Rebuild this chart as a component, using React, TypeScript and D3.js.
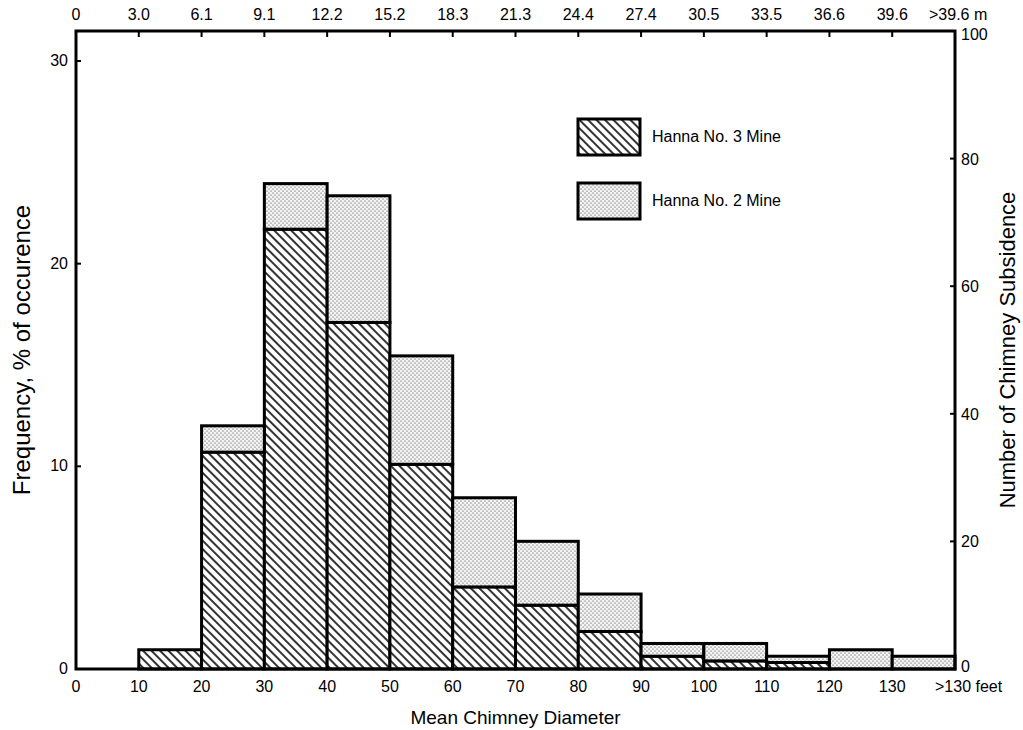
import React from "react";
import * as d3 from "d3";

// bins of mean chimney diameter, feet (last bin is >130)
const binStarts = [0, 10, 20, 30, 40, 50, 60, 70, 80, 90, 100, 110, 120, 130];
// % of occurence, Hanna No. 3 Mine (hatched, bottom)
const hanna3 = [0, 0.95, 10.7, 21.7, 17.1, 10.1, 4.05, 3.15, 1.85, 0.63, 0.4, 0.32, 0, 0];
// % of occurence, Hanna No. 2 Mine (dotted, stacked on top)
const hanna2 = [0, 0, 1.3, 2.25, 6.25, 5.35, 4.4, 3.15, 1.85, 0.63, 0.86, 0.31, 0.95, 0.63];

const feetLabels = ["0", "10", "20", "30", "40", "50", "60", "70", "80", "90", "100", "110", "120", "130", ">130 feet"];
const meterLabels = ["0", "3.0", "6.1", "9.1", "12.2", "15.2", "18.3", "21.3", "24.4", "27.4", "30.5", "33.5", "36.6", "39.6", ">39.6 m"];
const pctTicks = [0, 10, 20, 30];
const countTicks = [0, 20, 40, 60, 80, 100];

export default function App() {
    const ref = React.useRef<SVGSVGElement>(null);

    React.useEffect(() => {
        drawChart();
    }, []);

    function drawChart() {
        const width = 1023;
        const height = 730;
        const margin = { top: 31, right: 68, bottom: 61, left: 76 };
        const font = "'Liberation Sans', Arial, sans-serif";

        const svg = d3.select(ref.current);
        svg.selectAll("*").remove();

        const x = d3
            .scaleLinear()
            .domain([0, 140])
            .range([margin.left, width - margin.right]);
        const y = d3
            .scaleLinear()
            .domain([0, 31.48])
            .range([height - margin.bottom, margin.top]);
        const yCount = d3
            .scaleLinear()
            .domain([0, 100])
            .range([height - margin.bottom, margin.top]);

        // fill patterns
        const defs = svg.append("defs");
        const hatch = defs
            .append("pattern")
            .attr("id", "hatch")
            .attr("patternUnits", "userSpaceOnUse")
            .attr("width", 6)
            .attr("height", 6)
            .attr("patternTransform", "rotate(-45)");
        hatch.append("rect").attr("width", 6).attr("height", 6).attr("fill", "white");
        hatch
            .append("line")
            .attr("x1", 1)
            .attr("y1", 0)
            .attr("x2", 1)
            .attr("y2", 6)
            .attr("stroke", "black")
            .attr("stroke-width", 1.6);

        const dots = defs
            .append("pattern")
            .attr("id", "dots")
            .attr("patternUnits", "userSpaceOnUse")
            .attr("width", 4)
            .attr("height", 4);
        dots.append("rect").attr("width", 4).attr("height", 4).attr("fill", "#f4f4f4");
        dots.append("circle").attr("cx", 1).attr("cy", 1).attr("r", 0.6).attr("fill", "#333");
        dots.append("circle").attr("cx", 3).attr("cy", 3).attr("r", 0.6).attr("fill", "#333");

        const rows = binStarts.map((b, i) => ({ start: b, h3: hanna3[i], h2: hanna2[i] }));

        // Hanna No. 3 (bottom)
        svg.selectAll("rect.h3")
            .data(rows.filter((d) => d.h3 > 0))
            .enter()
            .append("rect")
            .attr("class", "h3")
            .attr("x", (d) => x(d.start))
            .attr("y", (d) => y(d.h3))
            .attr("width", (d) => x(d.start + 10) - x(d.start))
            .attr("height", (d) => y(0) - y(d.h3))
            .attr("fill", "url(#hatch)")
            .attr("stroke", "black")
            .attr("stroke-width", 3);

        // Hanna No. 2 (stacked)
        svg.selectAll("rect.h2")
            .data(rows.filter((d) => d.h2 > 0))
            .enter()
            .append("rect")
            .attr("class", "h2")
            .attr("x", (d) => x(d.start))
            .attr("y", (d) => y(d.h3 + d.h2))
            .attr("width", (d) => x(d.start + 10) - x(d.start))
            .attr("height", (d) => y(d.h3) - y(d.h3 + d.h2))
            .attr("fill", "url(#dots)")
            .attr("stroke", "black")
            .attr("stroke-width", 3);

        // frame
        svg.append("rect")
            .attr("x", x(0))
            .attr("y", margin.top)
            .attr("width", x(140) - x(0))
            .attr("height", y(0) - margin.top)
            .attr("fill", "none")
            .attr("stroke", "black")
            .attr("stroke-width", 3);

        // top ticks (meters) pointing in
        const edges = d3.range(0, 150, 10);
        svg.append("g")
            .selectAll("line")
            .data(edges.slice(1, -1))
            .enter()
            .append("line")
            .attr("x1", (d) => x(d))
            .attr("x2", (d) => x(d))
            .attr("y1", margin.top)
            .attr("y2", margin.top + 6)
            .attr("stroke", "black")
            .attr("stroke-width", 2);

        // left ticks
        svg.append("g")
            .selectAll("line")
            .data(pctTicks.slice(1))
            .enter()
            .append("line")
            .attr("x1", x(0))
            .attr("x2", x(0) + 5)
            .attr("y1", (d) => y(d))
            .attr("y2", (d) => y(d))
            .attr("stroke", "black")
            .attr("stroke-width", 2);

        // right ticks
        svg.append("g")
            .selectAll("line")
            .data(countTicks.slice(1, -1))
            .enter()
            .append("line")
            .attr("x1", x(140) - 5)
            .attr("x2", x(140))
            .attr("y1", (d) => yCount(d))
            .attr("y2", (d) => yCount(d))
            .attr("stroke", "black")
            .attr("stroke-width", 2);

        const text = (sel: any) =>
            sel.attr("font-family", font).attr("font-size", 16).attr("fill", "black");

        const last = feetLabels.length - 1;

        // bottom labels (feet)
        svg.append("g")
            .selectAll("text")
            .data(feetLabels)
            .enter()
            .append("text")
            .call(text)
            .attr("x", (d, i) => (i === last ? x(edges[i]) - 20 : x(edges[i])))
            .attr("y", 692)
            .attr("text-anchor", (d, i) => (i === last ? "start" : "middle"))
            .text((d) => d);

        // top labels (meters)
        svg.append("g")
            .selectAll("text")
            .data(meterLabels)
            .enter()
            .append("text")
            .call(text)
            .attr("x", (d, i) => (i === last ? x(edges[i]) - 26 : x(edges[i])))
            .attr("y", 20)
            .attr("text-anchor", (d, i) => (i === last ? "start" : "middle"))
            .text((d) => d);

        // left labels (%)
        svg.append("g")
            .selectAll("text")
            .data(pctTicks)
            .enter()
            .append("text")
            .call(text)
            .attr("x", x(0) - 8)
            .attr("y", (d) => y(d) + 5)
            .attr("text-anchor", "end")
            .text((d) => d);

        // right labels (count)
        svg.append("g")
            .selectAll("text")
            .data(countTicks)
            .enter()
            .append("text")
            .call(text)
            .attr("x", x(140) + 6)
            .attr("y", (d) => (d === 0 ? yCount(d) + 3 : d === 100 ? yCount(d) + 9 : yCount(d) + 6))
            .text((d) => d);

        // axis titles
        svg.append("text")
            .call(text)
            .attr("font-size", 19)
            .attr("x", (x(0) + x(140)) / 2)
            .attr("y", 724)
            .attr("text-anchor", "middle")
            .text("Mean Chimney Diameter");
        svg.append("text")
            .call(text)
            .attr("font-size", 24)
            .attr("text-anchor", "middle")
            .attr("transform", `translate(30,${(margin.top + y(0)) / 2}) rotate(-90)`)
            .text("Frequency, % of occurence");
        svg.append("text")
            .call(text)
            .attr("font-size", 22)
            .attr("text-anchor", "middle")
            .attr("transform", `translate(1015,${(margin.top + y(0)) / 2}) rotate(-90)`)
            .text("Number of Chimney Subsidence");

        // legend
        const legend = [
            { name: "Hanna No. 3 Mine", fill: "url(#hatch)", y: 119 },
            { name: "Hanna No. 2 Mine", fill: "url(#dots)", y: 183 },
        ];
        const lg = svg.append("g").selectAll("g").data(legend).enter().append("g");
        lg.append("rect")
            .attr("x", 578)
            .attr("y", (d) => d.y)
            .attr("width", 62)
            .attr("height", 36)
            .attr("fill", (d) => d.fill)
            .attr("stroke", "black")
            .attr("stroke-width", 3);
        lg.append("text")
            .call(text)
            .attr("x", 652)
            .attr("y", (d) => d.y + 23)
            .text((d) => d.name);
    }

    return (
        <svg
            ref={ref}
            width={1023}
            height={730}
            style={{ position: "absolute", left: 0, top: 0, background: "white" }}
        />
    );
}
